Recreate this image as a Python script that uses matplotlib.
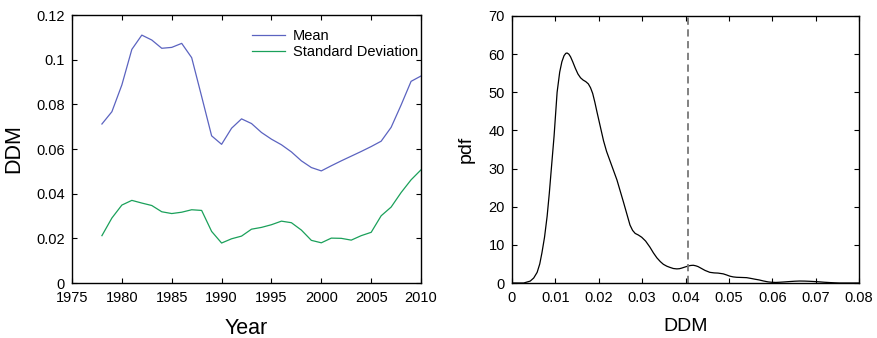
import numpy as np
import matplotlib
matplotlib.use("Agg")
import matplotlib.pyplot as plt

plt.rcParams['font.family'] = ['Liberation Sans', 'DejaVu Sans']

# Yearly DDM statistics
years = list(range(1978, 2011))
ddm_mean = [0.0712, 0.0767, 0.0887, 0.1046, 0.1110, 0.1088, 0.1051, 0.1055, 0.1073, 0.1009,
            0.0835, 0.0659, 0.0621, 0.0693, 0.0735, 0.0714, 0.0674, 0.0644, 0.0619, 0.0587,
            0.0547, 0.0517, 0.0502, 0.0525, 0.0547, 0.0568, 0.0589, 0.0611, 0.0635, 0.0697,
            0.0797, 0.0903, 0.0927]
ddm_std = [0.0212, 0.0291, 0.0349, 0.0370, 0.0358, 0.0347, 0.0319, 0.0311, 0.0317, 0.0328,
           0.0325, 0.0231, 0.0179, 0.0198, 0.0210, 0.0241, 0.0249, 0.0261, 0.0277, 0.0270,
           0.0237, 0.0191, 0.0180, 0.0201, 0.0200, 0.0192, 0.0212, 0.0227, 0.0301, 0.0340,
           0.0405, 0.0462, 0.0507]

# Density of DDM values
pdf_x = [0.0, 0.0027, 0.0042, 0.0050, 0.0058, 0.0064, 0.0069, 0.0075, 0.0081, 0.0086,
         0.0090, 0.0097, 0.0104, 0.0110, 0.0115, 0.0120, 0.0124, 0.0127, 0.0131, 0.0135,
         0.0140, 0.0146, 0.0152, 0.0158, 0.0164, 0.0170, 0.0176, 0.0181, 0.0186, 0.0191,
         0.0196, 0.0204, 0.0211, 0.0218, 0.0226, 0.0242, 0.0257, 0.0266, 0.0272, 0.0278,
         0.0284, 0.0291, 0.0299, 0.0308, 0.0318, 0.0326, 0.0334, 0.0342, 0.0349, 0.0357,
         0.0364, 0.0372, 0.0380, 0.0386, 0.0391, 0.0399, 0.0406, 0.0412, 0.0418, 0.0424,
         0.0429, 0.0437, 0.0445, 0.0456, 0.0466, 0.0475, 0.0487, 0.0495, 0.0502, 0.0510,
         0.0518, 0.0530, 0.0541, 0.0551, 0.0560, 0.0570, 0.0579, 0.0590, 0.0598, 0.0608,
         0.0617, 0.0628, 0.0640, 0.0652, 0.0663, 0.0675, 0.0686, 0.0698, 0.0709, 0.0720,
         0.0732, 0.0744, 0.0755, 0.0800]
pdf_y = [0.0, 0.0, 0.5, 1.3, 2.8, 5.0, 7.9, 12.0, 17.5, 23.5,
         29.0, 38.5, 50.0, 55.3, 58.0, 59.6, 60.2, 60.3, 60.0, 59.3,
         58.0, 56.3, 54.8, 53.8, 53.2, 52.8, 52.2, 51.2, 49.7, 47.4,
         44.8, 40.8, 37.3, 34.5, 32.0, 27.0, 21.2, 17.6, 15.2, 13.8,
         13.0, 12.6, 12.0, 11.0, 9.4, 7.9, 6.6, 5.6, 4.9, 4.4,
         4.1, 3.8, 3.7, 3.75, 3.9, 4.2, 4.45, 4.6, 4.65, 4.5,
         4.3, 3.8, 3.3, 2.8, 2.65, 2.6, 2.4, 2.1, 1.8, 1.6,
         1.5, 1.45, 1.4, 1.2, 1.0, 0.8, 0.55, 0.3, 0.2, 0.15,
         0.2, 0.28, 0.38, 0.47, 0.52, 0.5, 0.45, 0.38, 0.3, 0.2,
         0.12, 0.05, 0.0, 0.0]
ddm_threshold = 0.0406

fig = plt.figure(figsize=(8.77, 3.38), dpi=100)
ax1 = fig.add_axes([0.0821, 0.1627, 0.398, 0.7929])
ax2 = fig.add_axes([0.5838, 0.1627, 0.3957, 0.7900])

for ax in (ax1, ax2):
    ax.tick_params(direction='in', top=True, right=True, length=3.5, width=0.8,
                   labelsize=10.5)
    ax.tick_params(axis='x', pad=6)
    ax.tick_params(axis='y', pad=5)
    for s in ax.spines.values():
        s.set_linewidth(1.0)

# Left panel: yearly mean and standard deviation
ax1.plot(years, ddm_mean, color='#5b63c0', lw=0.9, label='Mean')
ax1.plot(years, ddm_std, color='#1aa05a', lw=0.9, label='Standard Deviation')
ax1.set_xlim(1975, 2010)
ax1.set_ylim(0, 0.12)
ax1.set_xticks(range(1975, 2011, 5))
ax1.set_yticks([0, 0.02, 0.04, 0.06, 0.08, 0.1, 0.12])
ax1.set_yticklabels(['0', '0.02', '0.04', '0.06', '0.08', '0.1', '0.12'])
ax1.set_xlabel('Year', fontsize=15.5, labelpad=9)
ax1.set_ylabel('DDM', fontsize=15.5, labelpad=9)
ax1.legend(loc='upper right', bbox_to_anchor=(1.02, 0.985), frameon=False, fontsize=10.5,
           handlelength=2.3, handletextpad=0.5, labelspacing=0.1, borderpad=0.2)

# Right panel: probability density
ax2.plot(pdf_x, pdf_y, color='black', lw=0.9)
ax2.axvline(ddm_threshold, color='#777777', lw=1.3, ls=(0, (4, 2.5)))
ax2.set_xlim(0, 0.08)
ax2.set_ylim(0, 70)
ax2.set_xticks(np.arange(0, 0.081, 0.01))
ax2.set_xticklabels(['0', '0.01', '0.02', '0.03', '0.04', '0.05', '0.06', '0.07', '0.08'])
ax2.set_yticks(range(0, 71, 10))
ax2.set_xlabel('DDM', fontsize=14, labelpad=9)
ax2.set_ylabel('pdf', fontsize=14, labelpad=10)

fig.savefig('out.png', dpi=100)
